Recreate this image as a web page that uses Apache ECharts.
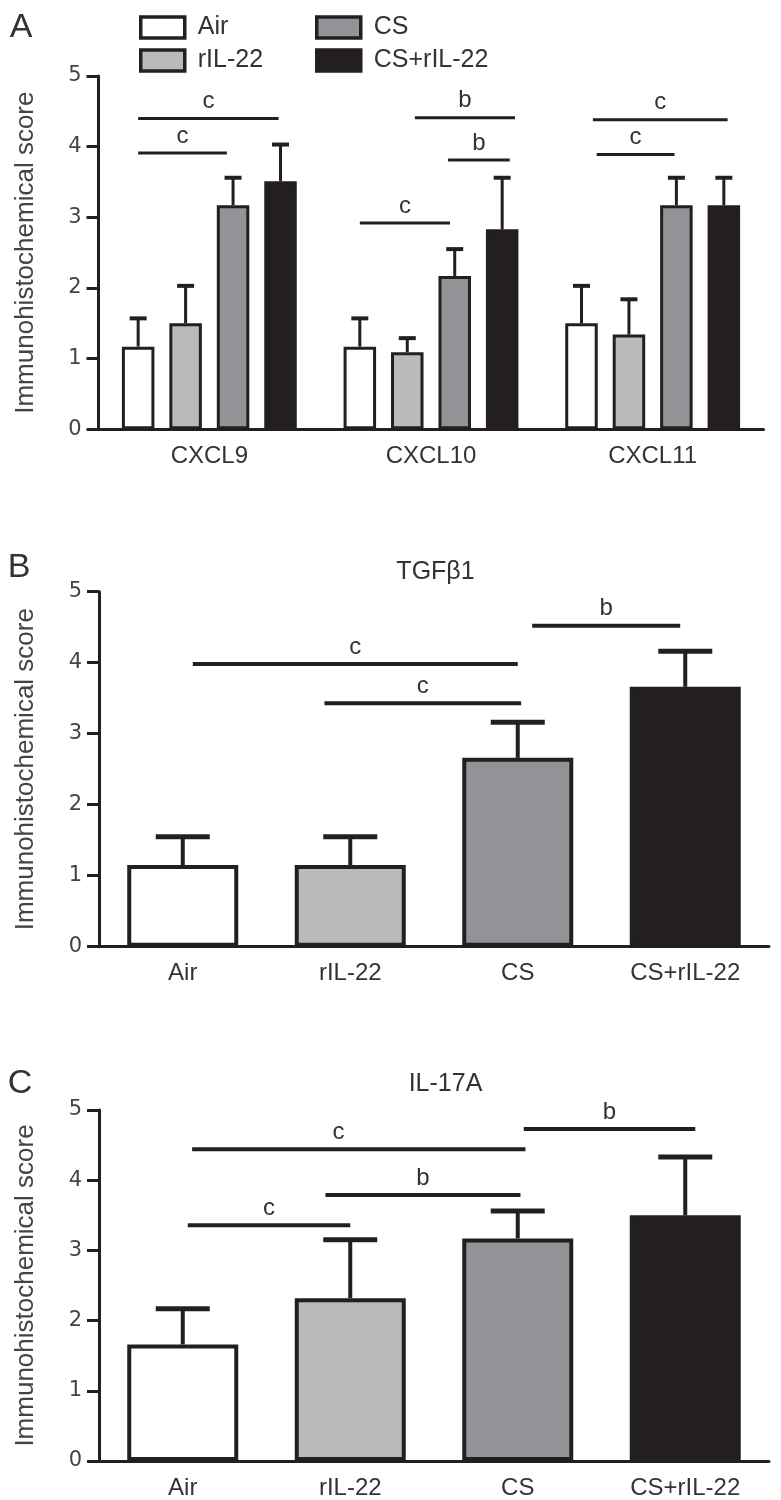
<!DOCTYPE html>
<html><head><meta charset="utf-8">
<script src="https://cdn.jsdelivr.net/npm/echarts@6/dist/echarts.min.js"></script>
<style>html,body{margin:0;padding:0;background:#fff}#c{width:781px;height:1500px}</style>
</head><body><div id="c"></div>
<script>
// ---------- data ----------
const groups = ['Air', 'rIL-22', 'CS', 'CS+rIL-22'];
const markersA = ['CXCL9', 'CXCL10', 'CXCL11'];
const yTicks = [0, 1, 2, 3, 4, 5];
const yAxisName = 'Immunohistochemical score';
const titleB = 'TGFβ1';
const titleC = 'IL-17A';
const panelLetters = ['A', 'B', 'C'];

// Panel A: mean per group for CXCL9, CXCL10, CXCL11
const airA = [1.17, 1.17, 1.50];
const ril22A = [1.50, 1.09, 1.34];
const csA = [3.17, 2.17, 3.17];
const csRilA = [3.51, 2.83, 3.17];
// Panel A: upper error (SD)
const airErrA = [0.40, 0.40, 0.53];
const ril22ErrA = [0.53, 0.20, 0.50];
const csErrA = [0.39, 0.38, 0.39];
const csRilErrA = [0.52, 0.73, 0.39];

// Panel B: TGFβ1
const tgfMean = [1.15, 1.15, 2.66, 3.66];
const tgfErr = [0.40, 0.40, 0.50, 0.50];

// Panel C: IL-17A
const il17Mean = [1.66, 2.32, 3.17, 3.50];
const il17Err = [0.51, 0.83, 0.39, 0.83];

// significance brackets: [category, from bar slot, to bar slot, height, letter, (label slot)]
const sigA = [
  [0, 0.0, 2.96, 4.40, 'c'],
  [0, 0.0, 1.87, 3.91, 'c'],
  [1, 0.0, 1.90, 2.92, 'c'],
  [1, 1.16, 3.27, 4.41, 'b'],
  [1, 1.86, 3.16, 3.81, 'b'],
  [2, 0.24, 3.08, 4.38, 'c'],
  [2, 0.32, 1.96, 3.89, 'c']
];
const sigB = [
  [0, 0.06, 2.00, 3.98, 'c'],
  [0, 0.846, 2.02, 3.43, 'c'],
  [0, 2.086, 2.97, 4.52, 'b']
];
const sigC = [
  [0, 0.056, 2.046, 4.44, 'c', 0.93],
  [0, 0.852, 2.016, 3.79, 'b'],
  [0, 0.03, 1.00, 3.36, 'c'],
  [0, 2.036, 3.06, 4.73, 'b']
];

// ---------- styles ----------
const INK = '#231f20';
const TXT = '#333333';
const fills = ['#ffffff', '#b9babc', '#929396', '#231f20'];
const FONT = 'Liberation Sans';
const BW_A = 32.5, GAP_A = 0.46;

const meansA = [airA, ril22A, csA, csRilA];
const errsA = [airErrA, ril22ErrA, csErrA, csRilErrA];

function errRender(nSlots, pitchFn, capW, lw, capLw) {
  return function (params, api) {
    const c = api.value(0), s = api.value(1), m = api.value(2), e = api.value(3);
    const b = api.coord([c, m]), t = api.coord([c, m + e]);
    const x = b[0] + (s - (nSlots - 1) / 2) * pitchFn(api);
    return { type: 'group', children: [
      { type: 'line', shape: { x1: x, y1: b[1], x2: x, y2: t[1] }, style: { stroke: INK, lineWidth: lw } },
      { type: 'line', shape: { x1: x - capW / 2, y1: t[1], x2: x + capW / 2, y2: t[1] }, style: { stroke: INK, lineWidth: capLw } }
    ] };
  };
}
function sigRender(list, nSlots, pitchFn, lw) {
  return function (params, api) {
    const it = list[params.dataIndex];
    const p = api.coord([it[0], it[3]]);
    const pitch = pitchFn(api);
    const off = s => (s - (nSlots - 1) / 2) * pitch;
    const x1 = p[0] + off(it[1]), x2 = p[0] + off(it[2]);
    const lx = it[5] != null ? p[0] + off(it[5]) : (x1 + x2) / 2;
    return { type: 'group', children: [
      { type: 'line', shape: { x1: x1, y1: p[1], x2: x2, y2: p[1] }, style: { stroke: INK, lineWidth: lw } },
      { type: 'text', style: { text: it[4], x: lx, y: p[1] - 5, align: 'center', verticalAlign: 'bottom',
        fill: TXT, fontSize: 24, fontFamily: FONT } }
    ] };
  };
}
const pitchA = () => BW_A * (1 + GAP_A);
const pitchBand = api => api.size([1, 0])[0];

function xAxisCfg(gi, cats) {
  return {
    type: 'category', gridIndex: gi, data: cats,
    axisLine: { lineStyle: { color: INK, width: 3 } },
    axisTick: { alignWithLabel: true, length: 10, lineStyle: { color: INK, width: 3 } },
    axisLabel: { fontSize: 24, color: TXT, margin: 15, fontFamily: FONT }
  };
}
function yAxisCfg(gi) {
  return {
    type: 'value', gridIndex: gi, min: yTicks[0], max: yTicks[yTicks.length - 1], interval: 1,
    name: yAxisName, nameLocation: 'middle', nameGap: 60,
    nameTextStyle: { fontSize: 26, color: '#444', fontFamily: FONT },
    axisLine: { show: true, lineStyle: { color: INK, width: 3 } },
    axisTick: { show: true, length: 12, lineStyle: { color: INK, width: 3 } },
    splitLine: { show: false },
    axisLabel: { fontSize: 21, color: '#444', margin: 17, fontFamily: 'DejaVu Sans' }
  };
}

const series = [];
groups.forEach((g, i) => {
  series.push({
    name: g, type: 'bar', xAxisIndex: 0, yAxisIndex: 0, data: meansA[i],
    barWidth: BW_A, barGap: (GAP_A * 100) + '%',
    itemStyle: { color: fills[i], borderColor: INK, borderWidth: 3 }, z: 2
  });
});
const errDataA = [];
groups.forEach((g, i) => markersA.forEach((m, c) => errDataA.push([c, i, meansA[i][c], errsA[i][c]])));
series.push({ type: 'custom', xAxisIndex: 0, yAxisIndex: 0, data: errDataA, encode: { x: 0, y: 2 },
  renderItem: errRender(4, pitchA, 17, 3, 4), z: 3, silent: true });
series.push({ type: 'custom', xAxisIndex: 0, yAxisIndex: 0, data: sigA.map(s => [s[0], s[3]]), encode: { x: 0, y: 1 },
  renderItem: sigRender(sigA, 4, pitchA, 3), z: 3, silent: true });

[[tgfMean, tgfErr, sigB, 1], [il17Mean, il17Err, sigC, 2]].forEach(([mean, err, sig, gi]) => {
  series.push({
    type: 'bar', xAxisIndex: gi, yAxisIndex: gi, barWidth: 111,
    data: mean.map((v, i) => ({ value: v, itemStyle: { color: fills[i] } })),
    itemStyle: { borderColor: INK, borderWidth: 4 }, z: 2
  });
  series.push({ type: 'custom', xAxisIndex: gi, yAxisIndex: gi, data: mean.map((v, i) => [i, 0, v, err[i]]),
    encode: { x: 0, y: 2 }, renderItem: errRender(1, pitchBand, 54, 4, 5), z: 3, silent: true });
  series.push({ type: 'custom', xAxisIndex: gi, yAxisIndex: gi, data: sig.map(s => [s[0], s[3]]),
    encode: { x: 0, y: 1 }, renderItem: sigRender(sig, 1, pitchBand, 4), z: 3, silent: true });
});

const legendBase = {
  orient: 'vertical', top: 10, itemWidth: 44, itemHeight: 21, itemGap: 8, icon: 'rect',
  textStyle: { fontSize: 25, color: TXT, fontFamily: FONT, padding: [0, 0, 0, 8] },
  itemStyle: { borderWidth: 3.5, borderColor: INK }
};

const chart = echarts.init(document.getElementById('c'), null, { renderer: 'canvas' });
chart.setOption({
  animation: false,
  backgroundColor: '#ffffff',
  textStyle: { fontFamily: FONT },
  grid: [
    { left: 98.5, top: 76, width: 665, height: 353.3 },
    { left: 99, top: 591.7, width: 670, height: 355 },
    { left: 99, top: 1110, width: 670, height: 353.3 }
  ],
  legend: [
    Object.assign({}, legendBase, { left: 134, data: [groups[0], groups[1]] }),
    Object.assign({}, legendBase, { left: 310, data: [groups[2], groups[3]] })
  ],
  xAxis: [xAxisCfg(0, markersA), xAxisCfg(1, groups), xAxisCfg(2, groups)],
  yAxis: [yAxisCfg(0), yAxisCfg(1), yAxisCfg(2)],
  graphic: [
    { type: 'text', x: 21, y: 27.5, style: { text: panelLetters[0], fill: TXT, fontSize: 34, fontFamily: FONT, align: 'center', verticalAlign: 'middle' } },
    { type: 'text', x: 19, y: 567.5, style: { text: panelLetters[1], fill: TXT, fontSize: 34, fontFamily: FONT, align: 'center', verticalAlign: 'middle' } },
    { type: 'text', x: 20, y: 1084, style: { text: panelLetters[2], fill: TXT, fontSize: 34, fontFamily: FONT, align: 'center', verticalAlign: 'middle' } },
    { type: 'text', x: 435.5, y: 572.5, style: { text: titleB, fill: TXT, fontSize: 25, fontFamily: FONT, align: 'center', verticalAlign: 'middle' } },
    { type: 'text', x: 445.5, y: 1084.5, style: { text: titleC, fill: TXT, fontSize: 25, fontFamily: FONT, align: 'center', verticalAlign: 'middle' } }
  ],
  series: series
});
</script>
</body></html>
